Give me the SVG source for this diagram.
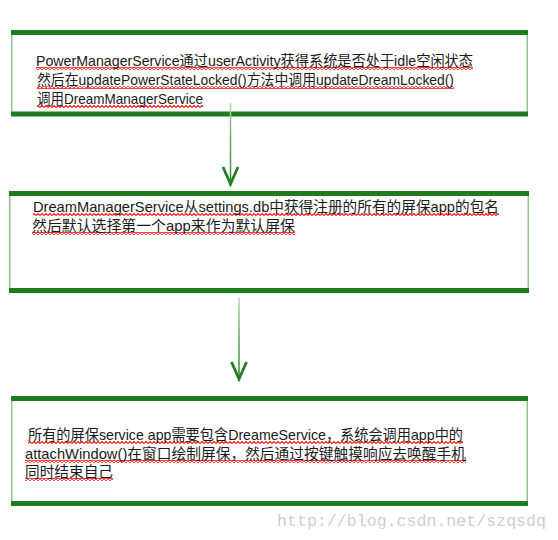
<svg xmlns="http://www.w3.org/2000/svg" width="558" height="540" viewBox="0 0 558 540">
  <defs>
    <pattern id="squig" patternUnits="userSpaceOnUse" x="0" y="0" width="4" height="3">
      <path d="M0 2.5 L2 0.5 L4 2.5" fill="none" stroke="#ff1010" stroke-width="1.1"/>
    </pattern>
    <linearGradient id="g1" gradientUnits="userSpaceOnUse" x1="0" y1="103" x2="0" y2="185">
      <stop offset="0" stop-color="#b5d9b5"/>
      <stop offset="0.5" stop-color="#5aa55a"/>
      <stop offset="1" stop-color="#2a8a2a"/>
    </linearGradient>
    <linearGradient id="g2" gradientUnits="userSpaceOnUse" x1="0" y1="298" x2="0" y2="380">
      <stop offset="0" stop-color="#b5d9b5"/>
      <stop offset="0.5" stop-color="#5aa55a"/>
      <stop offset="1" stop-color="#2a8a2a"/>
    </linearGradient>
  </defs>
  <style>
    .bar { fill: #1e7b1e; }
    .side { stroke: #8fc58f; stroke-width: 1.5; }
    .t { font-family: "Liberation Sans", "Noto Sans CJK SC", sans-serif; font-size: 14.5px; fill: #1a1a1a; }
    .sq { fill: url(#squig); }
    .head { fill: none; stroke: #237f23; stroke-width: 2.8; stroke-linejoin: miter; }
    .wm { font-family: "Liberation Mono", monospace; font-size: 16.6px; fill: #cfcfcf; }
  </style>
  <rect width="558" height="540" fill="#ffffff"/>

  <g id="node1">
    <line class="side" x1="11.75" y1="33" x2="11.75" y2="114"/>
    <line class="side" x1="527.25" y1="33" x2="527.25" y2="114"/>
    <rect class="bar" x="11" y="30" width="517" height="5"/>
    <rect class="bar" x="11" y="111.5" width="517" height="5"/>
    <rect class="sq" x="36" y="67" width="437" height="3"/>
    <rect class="sq" x="37" y="86" width="417" height="3"/>
    <rect class="sq" x="37" y="105" width="166" height="3"/>
    <text class="t" x="36" y="66" textLength="437" lengthAdjust="spacingAndGlyphs">PowerManagerService通过userActivity获得系统是否处于idle空闲状态</text>
    <text class="t" x="37" y="85" textLength="417" lengthAdjust="spacingAndGlyphs">然后在updatePowerStateLocked()方法中调用updateDreamLocked()</text>
    <text class="t" x="37" y="104" textLength="166" lengthAdjust="spacingAndGlyphs">调用DreamManagerService</text>
  </g>

  <g id="node2">
    <line class="side" x1="9.75" y1="194" x2="9.75" y2="291"/>
    <line class="side" x1="528.25" y1="194" x2="528.25" y2="291"/>
    <rect class="bar" x="9" y="191" width="520" height="5"/>
    <rect class="bar" x="9" y="288" width="520" height="5"/>
    <rect class="sq" x="33" y="213" width="466" height="3"/>
    <rect class="sq" x="32" y="232" width="263" height="3"/>
    <text class="t" x="33" y="212" textLength="466" lengthAdjust="spacingAndGlyphs">DreamManagerService从settings.db中获得注册的所有的屏保app的包名</text>
    <text class="t" x="32" y="231" textLength="263" lengthAdjust="spacingAndGlyphs">然后默认选择第一个app来作为默认屏保</text>
  </g>

  <g id="node3">
    <line class="side" x1="11.75" y1="399" x2="11.75" y2="504"/>
    <line class="side" x1="527.25" y1="399" x2="527.25" y2="504"/>
    <rect class="bar" x="11" y="396" width="517" height="5"/>
    <rect class="bar" x="11" y="501" width="517" height="5"/>
    <rect class="sq" x="28" y="441" width="435" height="3"/>
    <rect class="sq" x="25" y="460" width="441" height="3"/>
    <rect class="sq" x="25" y="478" width="88" height="3"/>
    <text class="t" x="28" y="440" textLength="435" lengthAdjust="spacingAndGlyphs">所有的屏保service app需要包含DreameService，系统会调用app中的</text>
    <text class="t" x="25" y="459" textLength="441" lengthAdjust="spacingAndGlyphs">attachWindow()在窗口绘制屏保，然后通过按键触摸响应去唤醒手机</text>
    <text class="t" x="25" y="477" textLength="88" lengthAdjust="spacingAndGlyphs">同时结束自己</text>
  </g>

  <g id="connectors">
    <line x1="230.5" y1="103" x2="230.5" y2="183" stroke="url(#g1)" stroke-width="1.5"/>
    <polyline class="head" points="223,167 230.5,184 238,167"/>
    <line x1="239" y1="298" x2="239" y2="379" stroke="url(#g2)" stroke-width="1.5"/>
    <polyline class="head" points="231.5,362 239,379 246.5,362"/>
  </g>

  <text class="wm" x="277" y="526" textLength="269" lengthAdjust="spacingAndGlyphs">http://blog.csdn.net/szqsdq</text>
</svg>
